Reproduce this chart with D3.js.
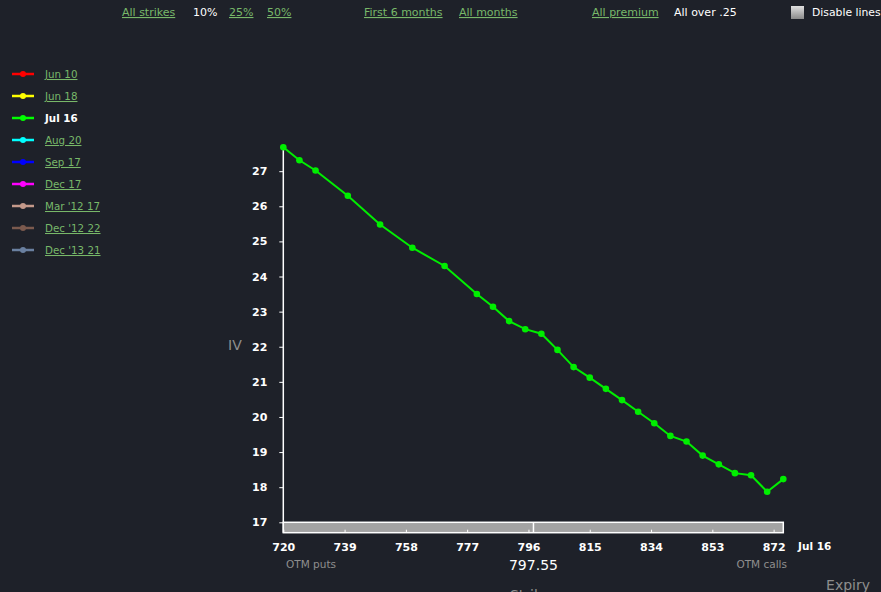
<!DOCTYPE html>
<html><head><meta charset="utf-8">
<script src="https://cdn.jsdelivr.net/npm/d3@7"></script>
<style>
html,body{margin:0;padding:0;background:#1e2129;overflow:hidden;}
svg{display:block;font-family:"DejaVu Sans","Open Sans",sans-serif;}
</style></head>
<body>
<script>
const strikes = [720,725,730,740,750,760,770,780,785,790,795,800,805,810,815,820,825,830,835,840,845,850,855,860,865,870,875];
const ivJul16 = [27.68,27.31,27.02,26.30,25.48,24.82,24.30,23.50,23.14,22.73,22.50,22.37,21.91,21.42,21.12,20.80,20.48,20.15,19.82,19.46,19.30,18.90,18.65,18.40,18.34,17.87,18.23];
const xTicks = [720,739,758,777,796,815,834,853,872];
const yTicks = [17,18,19,20,21,22,23,24,25,26,27];
const spot = 797.55;
const expiries = ["Jun 10","Jun 18","Jul 16","Aug 20","Sep 17","Dec 17","Mar '12 17","Dec '12 22","Dec '13 21"];
const expiryColors = ["#ff0000","#ffff00","#00ff00","#00ffff","#0000ff","#ff00ff","#c4998a","#7b5a4e","#6a80a0"];
const activeExpiry = "Jul 16";
const topLinks = [
  {t:"All strikes",x:122,link:true},{t:"10%",x:193,link:false},{t:"25%",x:229,link:true},{t:"50%",x:267,link:true},
  {t:"First 6 months",x:364,link:true},{t:"All months",x:459,link:true},
  {t:"All premium",x:592,link:true},{t:"All over .25",x:674,link:false}
];

const W=881,H=592;
const svg=d3.select("body").append("svg").attr("width",W).attr("height",H);
const green="#78b869";

// top bar
topLinks.forEach(d=>{
  svg.append("text").attr("x",d.x).attr("y",16).attr("font-size",11)
    .attr("fill",d.link?green:"#ffffff").attr("text-decoration",d.link?"underline":null).text(d.t);
});
const cbg=svg.append("defs").append("linearGradient").attr("id","cb").attr("x1",0).attr("y1",0).attr("x2",0).attr("y2",1);
cbg.append("stop").attr("offset",0).attr("stop-color","#e0e0e0");
cbg.append("stop").attr("offset",1).attr("stop-color","#8a8a8a");
svg.append("rect").attr("x",791).attr("y",6).attr("width",13).attr("height",13).attr("fill","url(#cb)");
svg.append("text").attr("x",812).attr("y",16).attr("font-size",10.8).attr("fill","#ffffff").text("Disable lines");

// legend
const lg=svg.append("g");
expiries.forEach((e,i)=>{
  const y=74+i*22;
  lg.append("line").attr("x1",12).attr("x2",34).attr("y1",y).attr("y2",y).attr("stroke",expiryColors[i]).attr("stroke-width",2.5);
  lg.append("circle").attr("cx",23).attr("cy",y).attr("r",3).attr("fill",expiryColors[i]);
  const act=e===activeExpiry;
  lg.append("text").attr("x",45).attr("y",y+4).attr("font-size",10.3).attr("font-weight",act?"bold":"normal")
    .attr("fill",act?"#ffffff":green).attr("text-decoration",act?null:"underline").text(e);
});

// scales
const x=d3.scaleLinear().domain([720,875]).range([283.3,783.3]);
const y=d3.scaleLinear().domain([17,d3.max(ivJul16)]).range([522.3,147.3]);

// y axis
const ya=svg.append("g").attr("transform","translate(283.3,0)")
  .call(d3.axisLeft(y).tickValues(yTicks).tickSize(4).tickPadding(12).tickFormat(d3.format("d")));
ya.select(".domain").remove();
ya.selectAll(".tick line").attr("stroke","#ffffff");
ya.selectAll(".tick text").attr("fill","#ffffff").attr("font-size",11).attr("font-weight","bold").attr("font-family","DejaVu Sans, sans-serif");
svg.append("line").attr("x1",283.3).attr("x2",283.3).attr("y1",y.range()[1]).attr("y2",532.7).attr("stroke","#ffffff").attr("stroke-width",1.5);

// x axis bar
svg.append("rect").attr("x",x(720)).attr("y",522.3).attr("width",x(875)-x(720)).attr("height",10.4)
  .attr("fill","#a3a3a3").attr("stroke","#ffffff").attr("stroke-width",1.5);
const xa=svg.append("g").attr("transform","translate(0,532.7)")
  .call(d3.axisTop(x).tickValues(xTicks).tickSize(3).tickFormat(d3.format("d")));
xa.select(".domain").remove();
xa.selectAll(".tick line").attr("stroke","#ffffff");
xa.selectAll(".tick text").attr("fill","#ffffff").attr("font-size",11).attr("font-weight","bold")
  .attr("transform","translate(0,24)").attr("dy",0).attr("font-family","DejaVu Sans, sans-serif");
svg.append("line").attr("x1",x(spot)).attr("x2",x(spot)).attr("y1",522.3).attr("y2",532.7).attr("stroke","#ffffff").attr("stroke-width",1.5);

// labels
svg.append("text").attr("x",798).attr("y",550).attr("font-size",10.5).attr("font-weight","bold").attr("fill","#ffffff").text(activeExpiry);
svg.append("text").attr("x",286).attr("y",568).attr("font-size",10.5).attr("fill","#8e8e8e").text("OTM puts");
svg.append("text").attr("x",787).attr("y",568).attr("text-anchor","end").attr("font-size",10.5).attr("fill","#8e8e8e").text("OTM calls");
svg.append("text").attr("x",x(spot)).attr("y",570).attr("text-anchor","middle").attr("font-size",14).attr("font-weight",500).attr("fill","#ffffff").text(spot.toFixed(2));
svg.append("text").attr("x",870).attr("y",590).attr("text-anchor","end").attr("font-size",14).attr("fill","#8e8e8e").text("Expiry");
svg.append("text").attr("x",530).attr("y",600).attr("text-anchor","middle").attr("font-size",14).attr("fill","#8e8e8e").text("Strike");
svg.append("text").attr("x",228).attr("y",350).attr("font-size",14).attr("fill","#8e8e8e").text("IV");

// series
const pts=strikes.map((s,i)=>[s,ivJul16[i]]);
svg.append("path").datum(pts).attr("fill","none").attr("stroke","#00ee00").attr("stroke-width",2)
  .attr("d",d3.line().x(d=>x(d[0])).y(d=>y(d[1])));
svg.selectAll("circle.pt").data(pts).enter().append("circle").attr("class","pt")
  .attr("cx",d=>x(d[0])).attr("cy",d=>y(d[1])).attr("r",3.3).attr("fill","#00ee00");
</script>
</body></html>
